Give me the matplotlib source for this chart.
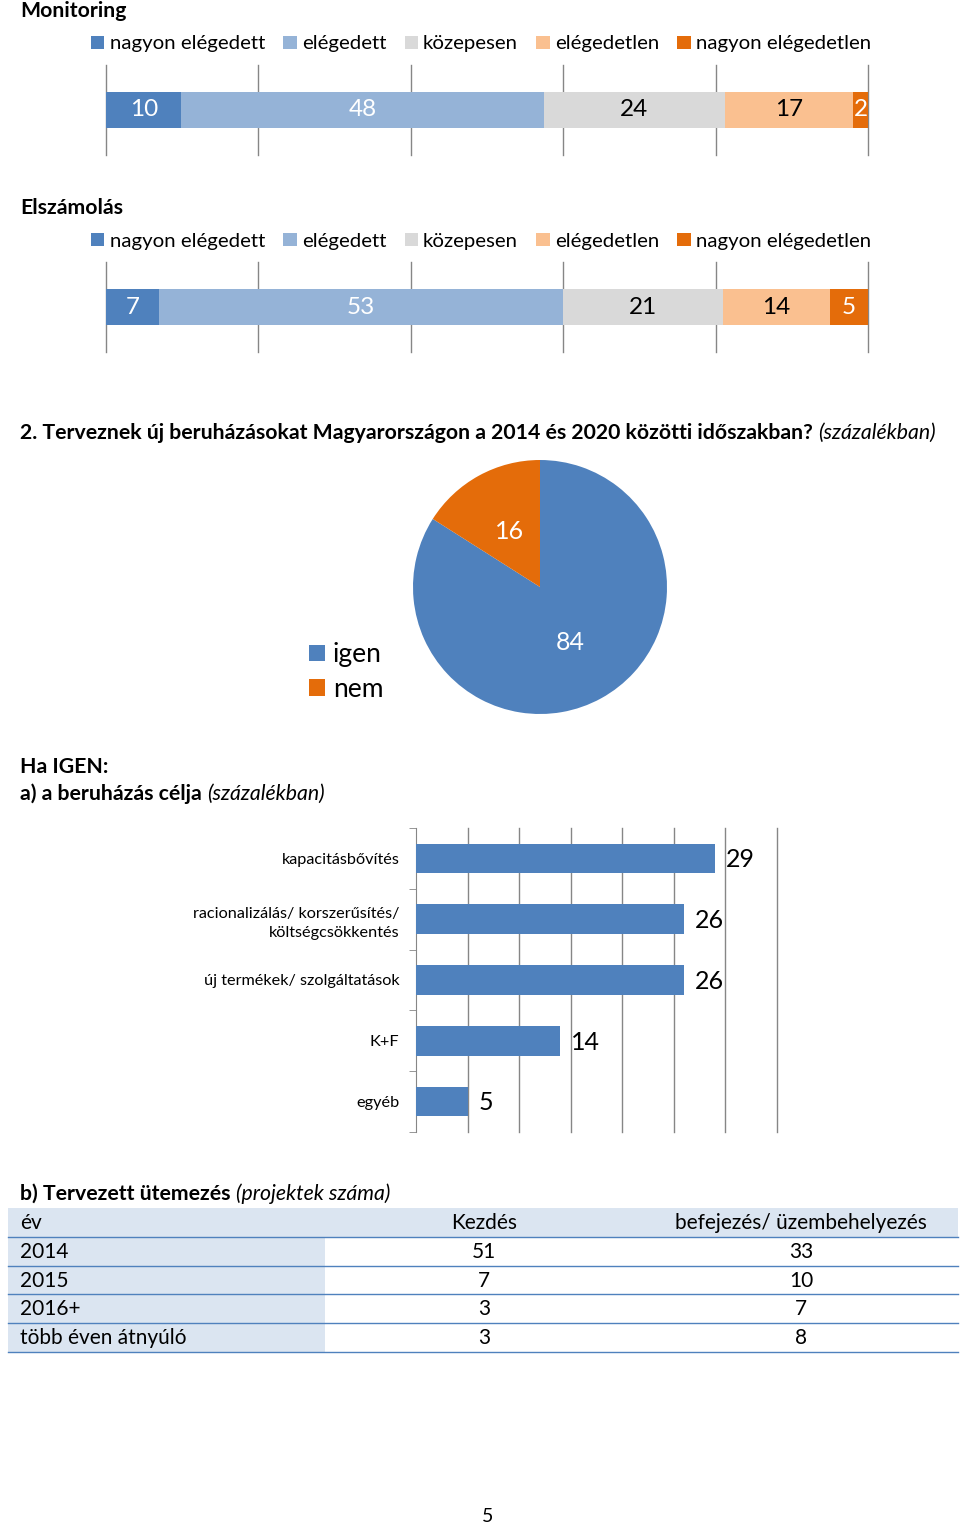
import matplotlib.pyplot as plt

plt.rcParams['font.family'] = ['Lato', 'DejaVu Sans']

W, H = 960, 1526

# satisfaction bars
categories = ['nagyon elégedett', 'elégedett', 'közepesen', 'elégedetlen', 'nagyon elégedetlen']
colors = ['#4F81BD', '#95B3D7', '#D9D9D9', '#FAC090', '#E46C0A']
label_colors = ['white', 'white', 'black', 'black', 'white']
monitoring = [10, 48, 24, 17, 2]
elszamolas = [7, 53, 21, 14, 5]

# pie
pie_labels = ['igen', 'nem']
pie_values = [84, 16]
pie_colors = ['#4F81BD', '#E46C0A']

# goals
goals = ['kapacitásbővítés', 'racionalizálás/ korszerűsítés/\nköltségcsökkentés',
         'új termékek/ szolgáltatások', 'K+F', 'egyéb']
goal_values = [29, 26, 26, 14, 5]

# schedule table
table_header = ['év', 'Kezdés', 'befejezés/ üzembehelyezés']
years = ['2014', '2015', '2016+', 'több éven átnyúló']
start = [51, 7, 3, 3]
finish = [33, 10, 7, 8]

GRID = '#868686'
LIGHT = '#DBE5F1'
TITLE = 15.3


def box(x0, y0, x1, y1):
    return [x0 / W, 1 - y1 / H, (x1 - x0) / W, (y1 - y0) / H]


def fx(x):
    return x / W


def fy(y):
    return 1 - y / H


fig = plt.figure(figsize=(W / 100, H / 100), dpi=100)
renderer = fig.canvas.get_renderer()


def mixed(x, y, bold, italic=None, size=TITLE):
    t = fig.text(fx(x), fy(y), bold, fontsize=size, fontweight='bold', va='baseline')
    if italic:
        bb = t.get_window_extent(renderer=renderer)
        fig.text((bb.x1 + 5) / W, fy(y), italic, fontsize=size, style='italic', va='baseline')


def stacked(title, title_y, values, top):
    mixed(20, title_y, title)
    ax = fig.add_axes(box(106, top, 868, top + 90))
    total = sum(values)
    left = 0
    for name, v, c, lc in zip(categories, values, colors, label_colors):
        w = v / total * 100
        ax.barh(0, w, left=left, height=0.41, color=c, label=name, zorder=3)
        ax.text(left + w / 2, 0, str(v), ha='center', va='center', color=lc, fontsize=17.5, zorder=4)
        left += w
    ax.set_xlim(0, 100)
    ax.set_ylim(-0.5, 0.5)
    for x in range(0, 101, 20):
        ax.axvline(x, color=GRID, lw=1, clip_on=False, zorder=1)
    ax.set_xticks([])
    ax.set_yticks([])
    for s in ax.spines.values():
        s.set_visible(False)
    ax.legend(loc='center', bbox_to_anchor=(fx(481), fy(top - 21)), bbox_transform=fig.transFigure,
              ncol=5, frameon=False, fontsize=14.7, handlelength=0.65, handleheight=0.65,
              handletextpad=0.25, columnspacing=0.9, borderaxespad=0, borderpad=0)


stacked('Monitoring', 17, monitoring, 65)
stacked('Elszámolás', 214, elszamolas, 262)

# pie
mixed(20, 439, '2. Terveznek új beruházásokat Magyarországon a 2014 és 2020 közötti időszakban?',
      '(százalékban)')
ax = fig.add_axes(box(413, 460, 667, 714))
wedges, _, autotexts = ax.pie(pie_values, colors=pie_colors, startangle=90, counterclock=False,
                              autopct='%.0f', pctdistance=0.5,
                              textprops=dict(color='white', fontsize=18))
for t, v in zip(autotexts, pie_values):
    t.set_text(str(v))
ax.set_xlim(-1, 1)
ax.set_ylim(-1, 1)
ax.set_aspect('equal')
fig.legend(wedges, pie_labels, loc='center left', bbox_to_anchor=(fx(309), fy(672)),
           frameon=False, fontsize=19, handlelength=0.6, handleheight=0.6,
           handletextpad=0.3, labelspacing=0.35, borderaxespad=0, borderpad=0)

# goals bar chart
mixed(20, 773, 'Ha IGEN:')
mixed(20, 800, 'a) a beruházás célja', '(százalékban)')
ax = fig.add_axes(box(416, 828, 777, 1132))
ypos = list(range(len(goals)))
ax.barh(ypos, goal_values, height=0.49, color='#4F81BD', zorder=3)
for y, v in zip(ypos, goal_values):
    ax.text(v + 1.05, y + 0.02, str(v), va='center', ha='left', fontsize=18)
ax.set_xlim(0, 35)
ax.set_ylim(len(goals) - 0.5, -0.5)
for x in range(5, 36, 5):
    ax.axvline(x, color=GRID, lw=1, clip_on=False, zorder=1)
ax.set_xticks([])
ax.set_yticks(ypos)
ax.set_yticklabels(goals, fontsize=11.7, linespacing=1.45)
ax.set_yticks([y - 0.5 for y in range(len(goals) + 1)], minor=True)
ax.tick_params(axis='y', which='major', length=0, pad=12)
ax.tick_params(axis='y', which='minor', length=5, color=GRID)
for s in ['top', 'right', 'bottom']:
    ax.spines[s].set_visible(False)
ax.spines['left'].set_color(GRID)

# schedule table
mixed(20, 1200, 'b) Tervezett ütemezés', '(projektek száma)')
ax = fig.add_axes(box(8, 1208, 958, 1352))
ax.set_xlim(0, 950)
ax.set_ylim(len(years) + 1, 0)
ax.barh(0.5, 950, height=1, left=0, color=LIGHT)
ax.barh([i + 1.5 for i in range(len(years))], 317, height=1, left=0, color=LIGHT)
for i in range(1, len(years) + 2):
    ax.axhline(i, color='#4F81BD', lw=1, clip_on=False)
col_x = [12, 476, 793]
ax.text(col_x[0], 0.52, table_header[0], fontsize=15, va='center', ha='left')
ax.text(col_x[1], 0.52, table_header[1], fontsize=15, va='center', ha='center')
ax.text(col_x[2], 0.52, table_header[2], fontsize=15, va='center', ha='center')
for i, (yr, s, f) in enumerate(zip(years, start, finish)):
    ax.text(col_x[0], i + 1.52, yr, fontsize=15, va='center', ha='left')
    ax.text(col_x[1], i + 1.52, str(s), fontsize=15, va='center', ha='center')
    ax.text(col_x[2], i + 1.52, str(f), fontsize=15, va='center', ha='center')
ax.axis('off')

fig.text(fx(488), fy(1516), '5', fontsize=14, ha='center', va='center')

fig.savefig('out.png', dpi=100)
